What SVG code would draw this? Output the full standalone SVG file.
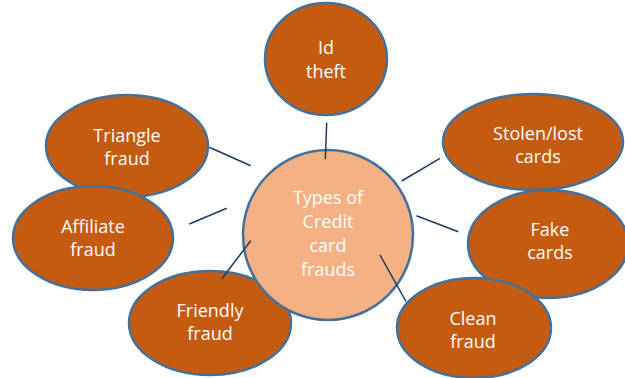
<svg xmlns="http://www.w3.org/2000/svg" width="625" height="378" viewBox="0 0 625 378">
<style>
.n{fill:#C55A11;stroke:#41719C;stroke-width:2.5}
.c{fill:#F4B183;stroke:#41719C;stroke-width:2.5}
text{font-family:"Open Sans","Liberation Sans",sans-serif;font-size:18px;fill:#FFFFFF;text-anchor:middle}
.e line{stroke:#1F3864;stroke-width:1.5}
</style>
<rect width="625" height="378" fill="#FFFFFF"/>
<g id="id-theft"><ellipse class="n" cx="326" cy="59" rx="61" ry="56"/><text x="326" y="54">Id</text><text x="326" y="78">theft</text></g>
<g id="triangle"><ellipse class="n" cx="127" cy="146" rx="81" ry="51"/><text x="127" y="142">Triangle</text><text x="127" y="165">fraud</text></g>
<g id="affiliate"><ellipse class="n" cx="93" cy="238" rx="80" ry="52"/><text x="93" y="233">Affiliate</text><text x="93" y="256">fraud</text></g>
<g id="friendly"><ellipse class="n" cx="210" cy="323" rx="81" ry="52"/><text x="210" y="317">Friendly</text><text x="210" y="340">fraud</text></g>
<g id="stolen"><ellipse class="n" cx="533" cy="142" rx="90" ry="48"/><text x="538" y="140">Stolen/lost</text><text x="538" y="163">cards</text></g>
<g id="fake"><ellipse class="n" cx="548" cy="244" rx="80" ry="54"/><text x="550" y="236">Fake</text><text x="550" y="259">cards</text></g>
<g id="clean"><ellipse class="n" cx="474" cy="328" rx="77" ry="50"/><text x="473" y="325">Clean</text><text x="473" y="348">fraud</text></g>
<g id="center"><circle class="c" cx="328" cy="235" r="85"/><text x="328" y="204">Types of</text><text x="328" y="228">Credit</text><text x="328" y="252">card</text><text x="328" y="276">frauds</text></g>
<g id="connectors" class="e">
<line x1="326.7" y1="122.7" x2="325.3" y2="159.3"/>
<line x1="440" y1="158.3" x2="401.7" y2="181"/>
<line x1="416.5" y1="215.8" x2="458.3" y2="231.7"/>
<line x1="380" y1="255" x2="406" y2="301.5"/>
<line x1="250.7" y1="240.7" x2="221.7" y2="279"/>
<line x1="226.7" y1="208.3" x2="189.3" y2="224"/>
<line x1="209.3" y1="147.3" x2="250.7" y2="165.8"/>
</g>
</svg>
